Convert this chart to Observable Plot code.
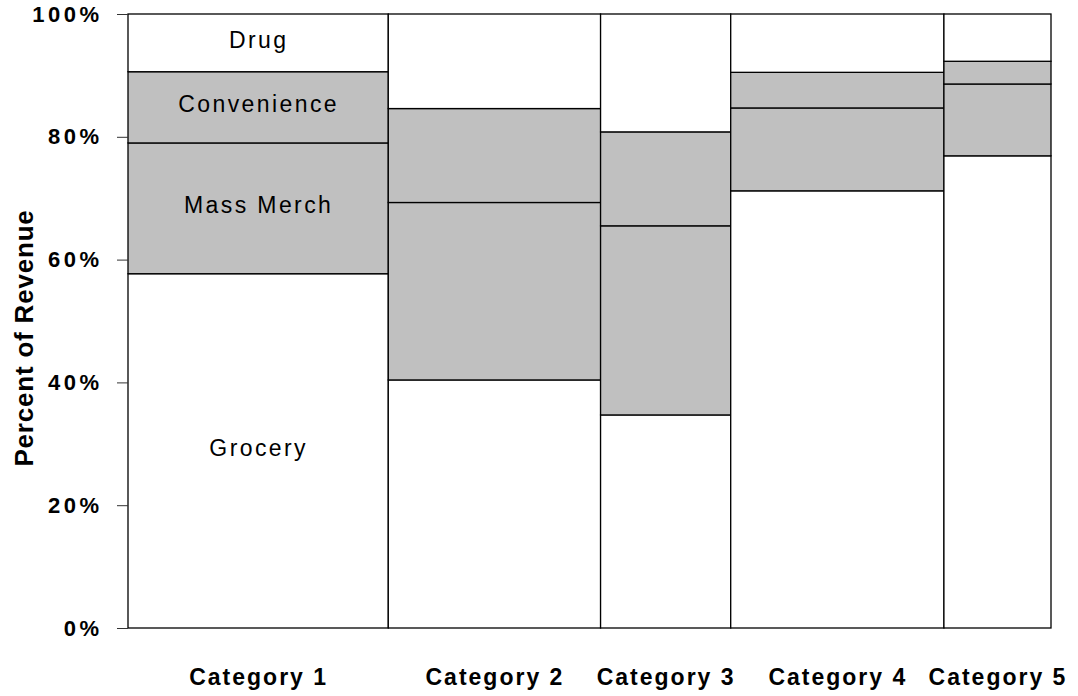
<!DOCTYPE html>
<html>
<head>
<meta charset="utf-8">
<script src="https://cdn.jsdelivr.net/npm/d3@7"></script>
<script src="https://cdn.jsdelivr.net/npm/@observablehq/plot@0.6"></script>
<style>
  html, body { margin: 0; padding: 0; background: white; }
  #chart { width: 1078px; height: 696px; }
</style>
</head>
<body>
<div id="chart"></div>
<script>
const categories = ["Category 1", "Category 2", "Category 3", "Category 4", "Category 5"];
const categoryShare = [28.2, 23.0, 14.1, 23.1, 11.6];
const segments = ["Grocery", "Mass Merch", "Convenience", "Drug"];
const grocery = [57.7, 40.4, 34.7, 71.2, 76.9];
const massMerch = [21.3, 28.9, 30.8, 13.5, 11.7];
const convenience = [11.6, 15.3, 15.3, 5.8, 3.7];
const drug = [9.4, 15.4, 19.2, 9.5, 7.7];
const yTicks = [0, 20, 40, 60, 80, 100];

const segmentValues = [grocery, massMerch, convenience, drug];
const segmentFill = {"Grocery": "white", "Mass Merch": "#c0c0c0", "Convenience": "#c0c0c0", "Drug": "white"};

const rows = [];
const catRows = [];
let xStart = 0;
categories.forEach((cat, i) => {
  const xEnd = xStart + categoryShare[i];
  catRows.push({category: cat, xm: (xStart + xEnd) / 2});
  let yStart = 0;
  segments.forEach((seg, j) => {
    const yEnd = yStart + segmentValues[j][i];
    rows.push({category: cat, segment: seg, x1: xStart, x2: xEnd, y1: yStart, y2: yEnd,
               xm: (xStart + xEnd) / 2, ym: (yStart + yEnd) / 2, fill: segmentFill[seg]});
    yStart = yEnd;
  });
  xStart = xEnd;
});
const labelRows = rows.filter(d => d.category === categories[0]);

const svg = Plot.plot({
  width: 1078,
  height: 696,
  marginLeft: 128,
  marginRight: 27,
  marginTop: 14,
  marginBottom: 68,
  x: {domain: [0, 100], axis: null},
  y: {domain: [0, 100], axis: null},
  color: {type: "identity"},
  style: {fontFamily: "'Liberation Sans', Arial, sans-serif", background: "white", color: "black"},
  marks: [
    Plot.rect(rows, {x1: "x1", x2: "x2", y1: "y1", y2: "y2", fill: "fill", stroke: "black", strokeWidth: 1.3}),
    Plot.axisY({ticks: yTicks, tickFormat: d => d + "%", tickSize: 11, tickPadding: 15,
                fontSize: 22, fontWeight: "bold", label: null, stroke: "#333"}),
    Plot.text(labelRows, {x: "xm", y: "ym", text: "segment", fontSize: 23, dy: -3, fill: "black"}),
    Plot.text(catRows, {x: "xm", y: () => 0, text: "category", dy: 49, fontSize: 23, fontWeight: "bold", fill: "black"})
  ]
});

const root = d3.select(svg);
root.selectAll('g[aria-label="y-axis tick label"] text')
  .style("font-size", "22px").style("font-weight", "bold").style("letter-spacing", "3.5px");
const textGroups = root.selectAll('g[aria-label="text"]').nodes();
if (textGroups[0]) d3.select(textGroups[0]).selectAll("text").style("letter-spacing", "2.4px");
if (textGroups[1]) d3.select(textGroups[1]).selectAll("text").style("letter-spacing", "2px");

root.append("text")
  .attr("transform", "translate(33,338) rotate(-90)")
  .attr("text-anchor", "middle")
  .attr("font-size", 26)
  .attr("font-weight", "bold")
  .attr("fill", "black")
  .style("letter-spacing", "0.8px")
  .text("Percent of Revenue");

document.getElementById("chart").appendChild(svg);
</script>
</body>
</html>
